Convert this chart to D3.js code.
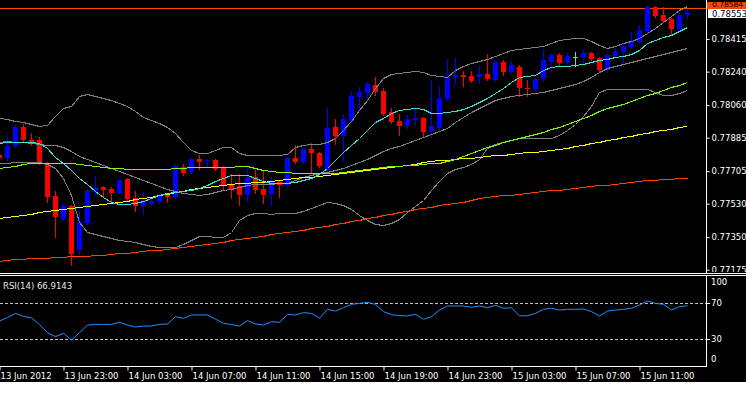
<!DOCTYPE html>
<html>
<head>
<meta charset="utf-8">
<script src="https://cdn.jsdelivr.net/npm/d3@7"></script>
<style>
  html, body { margin: 0; padding: 0; background: #fff; }
  svg { display: block; }
  text { font-family: "DejaVu Sans", sans-serif; font-size: 8.5px; }
</style>
</head>
<body>
<svg id="chart" width="746" height="393"></svg>
<script>
// M30 candles, first bar index -1 (13 Jun 19:00) to 85 (15 Jun 13:30)
const firstIndex = -1;

const opens = [
  0.77792,0.77776,0.77840,0.77942,0.77872,0.77872,0.77749,0.77571,0.77448,0.77518,
  0.77281,0.77426,0.77593,0.77620,0.77609,0.77587,0.77663,0.77561,0.77518,0.77528,
  0.77539,0.77577,0.77566,0.77727,0.77700,0.77770,0.77759,0.77765,0.77727,0.77630,
  0.77625,0.77577,0.77673,0.77609,0.77582,0.77647,0.77630,0.77776,0.77754,0.77824,
  0.77802,0.77711,0.77942,0.77894,0.77974,0.78104,0.78125,0.78168,0.78136,0.78023,
  0.77974,0.77948,0.77980,0.77991,0.77921,0.77937,0.78093,0.78211,0.78222,0.78216,
  0.78211,0.78227,0.78195,0.78292,0.78238,0.78265,0.78152,0.78147,0.78206,0.78292,
  0.78329,0.78292,0.78319,0.78319,0.78340,0.78313,0.78249,0.78324,0.78345,0.78372,
  0.78399,0.78458,0.78587,0.78544,0.78523,0.78469,0.78544];
const highs = [
  0.77797,0.77899,0.77953,0.77958,0.77910,0.77889,0.77754,0.77598,0.77534,0.77523,
  0.77496,0.77609,0.77679,0.77625,0.77620,0.77663,0.77668,0.77598,0.77593,0.77566,
  0.77582,0.77587,0.77743,0.77743,0.77776,0.77792,0.77770,0.77770,0.77733,0.77690,
  0.77690,0.77743,0.77711,0.77706,0.77673,0.77652,0.77781,0.77845,0.77829,0.77856,
  0.77808,0.78044,0.77985,0.78012,0.78136,0.78157,0.78184,0.78211,0.78152,0.78044,
  0.78012,0.78007,0.78044,0.77996,0.78195,0.78163,0.78308,0.78313,0.78243,0.78243,
  0.78270,0.78335,0.78297,0.78302,0.78297,0.78276,0.78195,0.78206,0.78362,0.78340,
  0.78340,0.78340,0.78345,0.78362,0.78345,0.78319,0.78335,0.78367,0.78383,0.78453,
  0.78491,0.78593,0.78593,0.78587,0.78528,0.78560,0.78577];
const lows = [
  0.77770,0.77765,0.77835,0.77867,0.77845,0.77743,0.77539,0.77351,0.77442,0.77200,
  0.77260,0.77421,0.77577,0.77566,0.77544,0.77582,0.77550,0.77491,0.77475,0.77523,
  0.77534,0.77539,0.77561,0.77684,0.77695,0.77716,0.77733,0.77711,0.77604,0.77561,
  0.77523,0.77544,0.77587,0.77534,0.77523,0.77566,0.77625,0.77749,0.77749,0.77695,
  0.77727,0.77706,0.77851,0.77759,0.77969,0.78034,0.78087,0.78114,0.78007,0.77964,
  0.77899,0.77937,0.77953,0.77889,0.77889,0.77932,0.78087,0.78173,0.78163,0.78184,
  0.78179,0.78195,0.78190,0.78222,0.78233,0.78109,0.78109,0.78141,0.78190,0.78243,
  0.78276,0.78281,0.78270,0.78286,0.78302,0.78238,0.78238,0.78319,0.78265,0.78367,
  0.78394,0.78453,0.78534,0.78507,0.78437,0.78464,0.78523];
const closes = [
  0.77776,0.77840,0.77942,0.77872,0.77862,0.77749,0.77566,0.77458,0.77518,0.77260,
  0.77432,0.77598,0.77614,0.77604,0.77587,0.77657,0.77555,0.77518,0.77539,0.77544,
  0.77577,0.77566,0.77733,0.77695,0.77770,0.77754,0.77765,0.77716,0.77625,0.77609,
  0.77577,0.77668,0.77604,0.77577,0.77647,0.77630,0.77776,0.77754,0.77824,0.77802,
  0.77733,0.77937,0.77894,0.77985,0.78109,0.78130,0.78173,0.78130,0.78012,0.77969,
  0.77948,0.77985,0.77991,0.77915,0.77948,0.78098,0.78211,0.78222,0.78211,0.78190,
  0.78227,0.78200,0.78292,0.78238,0.78276,0.78152,0.78147,0.78200,0.78302,0.78329,
  0.78286,0.78324,0.78319,0.78340,0.78308,0.78249,0.78329,0.78351,0.78378,0.78405,
  0.78464,0.78587,0.78539,0.78512,0.78469,0.78544,0.78553];

// Bollinger bands
const bbUpper = [
  0.77991,0.77985,0.77974,0.77969,0.77958,0.77948,0.77953,0.78001,0.78044,0.78055,
  0.78109,0.78120,0.78109,0.78098,0.78087,0.78071,0.78055,0.78028,0.77996,0.77980,
  0.77964,0.77942,0.77910,0.77862,0.77819,0.77802,0.77802,0.77819,0.77835,0.77835,
  0.77802,0.77792,0.77792,0.77792,0.77792,0.77792,0.77797,0.77835,0.77845,0.77851,
  0.77851,0.77862,0.77883,0.77926,0.77974,0.78034,0.78087,0.78152,0.78206,0.78227,
  0.78233,0.78238,0.78243,0.78238,0.78222,0.78216,0.78211,0.78249,0.78270,0.78286,
  0.78297,0.78308,0.78324,0.78340,0.78356,0.78362,0.78367,0.78372,0.78378,0.78394,
  0.78410,0.78415,0.78421,0.78421,0.78405,0.78383,0.78367,0.78378,0.78394,0.78405,
  0.78421,0.78448,0.78474,0.78507,0.78539,0.78571,0.78593];
const bbMiddle = [
  0.77862,0.77867,0.77862,0.77862,0.77856,0.77851,0.77845,0.77845,0.77835,0.77813,
  0.77786,0.77770,0.77754,0.77738,0.77722,0.77706,0.77690,0.77673,0.77657,0.77641,
  0.77625,0.77609,0.77598,0.77587,0.77582,0.77577,0.77582,0.77593,0.77604,0.77609,
  0.77620,0.77630,0.77636,0.77636,0.77636,0.77641,0.77641,0.77657,0.77673,0.77684,
  0.77695,0.77700,0.77711,0.77722,0.77738,0.77754,0.77770,0.77792,0.77813,0.77829,
  0.77840,0.77856,0.77872,0.77889,0.77905,0.77921,0.77937,0.77969,0.77996,0.78023,
  0.78044,0.78066,0.78087,0.78098,0.78109,0.78114,0.78120,0.78125,0.78130,0.78141,
  0.78152,0.78163,0.78173,0.78190,0.78211,0.78238,0.78259,0.78270,0.78281,0.78292,
  0.78302,0.78313,0.78324,0.78335,0.78345,0.78356,0.78367];
const bbLower = [
  0.77749,0.77749,0.77754,0.77754,0.77754,0.77754,0.77743,0.77722,0.77668,0.77577,
  0.77432,0.77378,0.77367,0.77356,0.77346,0.77335,0.77329,0.77324,0.77313,0.77303,
  0.77297,0.77297,0.77297,0.77313,0.77335,0.77356,0.77356,0.77351,0.77351,0.77378,
  0.77442,0.77469,0.77480,0.77480,0.77475,0.77480,0.77480,0.77480,0.77491,0.77507,
  0.77523,0.77539,0.77534,0.77523,0.77501,0.77469,0.77442,0.77421,0.77415,0.77426,
  0.77448,0.77485,0.77518,0.77550,0.77604,0.77652,0.77695,0.77716,0.77727,0.77743,
  0.77770,0.77829,0.77851,0.77862,0.77872,0.77883,0.77883,0.77883,0.77883,0.77883,
  0.77899,0.77926,0.77958,0.78001,0.78055,0.78130,0.78147,0.78147,0.78147,0.78147,
  0.78147,0.78147,0.78130,0.78114,0.78114,0.78125,0.78141];

// moving averages
const maFast = [
  0.77856,0.77862,0.77862,0.77862,0.77862,0.77856,0.77829,0.77781,0.77749,0.77711,
  0.77668,0.77636,0.77598,0.77566,0.77539,0.77528,0.77528,0.77534,0.77544,0.77561,
  0.77577,0.77587,0.77593,0.77598,0.77604,0.77614,0.77630,0.77652,0.77668,0.77684,
  0.77684,0.77684,0.77668,0.77652,0.77641,0.77641,0.77641,0.77647,0.77657,0.77668,
  0.77690,0.77722,0.77765,0.77808,0.77845,0.77883,0.77926,0.77969,0.77991,0.78017,
  0.78034,0.78039,0.78044,0.78039,0.78017,0.78017,0.78023,0.78028,0.78039,0.78055,
  0.78077,0.78098,0.78125,0.78152,0.78184,0.78211,0.78216,0.78222,0.78249,0.78265,
  0.78270,0.78270,0.78276,0.78281,0.78292,0.78302,0.78308,0.78319,0.78324,0.78335,
  0.78356,0.78394,0.78410,0.78426,0.78437,0.78458,0.78480];
const maMid = [
  0.77722,0.77727,0.77733,0.77743,0.77749,0.77749,0.77749,0.77749,0.77749,0.77749,
  0.77743,0.77738,0.77733,0.77727,0.77722,0.77722,0.77716,0.77716,0.77716,0.77716,
  0.77716,0.77716,0.77722,0.77722,0.77727,0.77727,0.77727,0.77727,0.77727,0.77727,
  0.77733,0.77733,0.77722,0.77711,0.77706,0.77700,0.77700,0.77695,0.77695,0.77695,
  0.77695,0.77695,0.77695,0.77700,0.77706,0.77711,0.77716,0.77722,0.77727,0.77733,
  0.77733,0.77738,0.77738,0.77743,0.77749,0.77749,0.77759,0.77770,0.77786,0.77802,
  0.77819,0.77835,0.77845,0.77862,0.77872,0.77883,0.77894,0.77905,0.77915,0.77932,
  0.77942,0.77958,0.77974,0.77991,0.78007,0.78028,0.78044,0.78055,0.78066,0.78082,
  0.78098,0.78114,0.78125,0.78141,0.78157,0.78168,0.78184];
const maSlow = [
  0.77453,0.77458,0.77464,0.77469,0.77475,0.77485,0.77491,0.77496,0.77501,0.77507,
  0.77512,0.77518,0.77523,0.77528,0.77534,0.77539,0.77544,0.77555,0.77561,0.77566,
  0.77577,0.77582,0.77593,0.77598,0.77609,0.77614,0.77620,0.77625,0.77630,0.77636,
  0.77641,0.77641,0.77647,0.77647,0.77652,0.77657,0.77663,0.77668,0.77673,0.77673,
  0.77679,0.77684,0.77690,0.77695,0.77700,0.77706,0.77711,0.77716,0.77722,0.77727,
  0.77733,0.77738,0.77743,0.77754,0.77759,0.77765,0.77765,0.77770,0.77776,0.77776,
  0.77781,0.77786,0.77792,0.77792,0.77797,0.77802,0.77808,0.77808,0.77813,0.77819,
  0.77824,0.77829,0.77840,0.77845,0.77856,0.77862,0.77872,0.77878,0.77889,0.77894,
  0.77905,0.77910,0.77921,0.77926,0.77932,0.77942,0.77948];
const maLong = [
  0.77222,0.77227,0.77233,0.77233,0.77238,0.77238,0.77238,0.77243,0.77243,0.77249,
  0.77249,0.77249,0.77254,0.77254,0.77260,0.77265,0.77265,0.77270,0.77276,0.77281,
  0.77281,0.77287,0.77292,0.77297,0.77303,0.77308,0.77313,0.77319,0.77324,0.77335,
  0.77340,0.77346,0.77351,0.77356,0.77367,0.77372,0.77378,0.77383,0.77389,0.77399,
  0.77405,0.77410,0.77421,0.77426,0.77437,0.77442,0.77453,0.77458,0.77469,0.77475,
  0.77485,0.77491,0.77501,0.77507,0.77512,0.77523,0.77528,0.77534,0.77539,0.77550,
  0.77561,0.77566,0.77571,0.77577,0.77577,0.77582,0.77587,0.77593,0.77598,0.77604,
  0.77604,0.77609,0.77614,0.77620,0.77625,0.77630,0.77630,0.77636,0.77641,0.77647,
  0.77652,0.77657,0.77657,0.77663,0.77663,0.77668,0.77668];

const rsi14 = [
  50,54,58.5,55,53.5,46,37,32.6,36.3,28.9,
  37,45.5,46.3,46.3,46.3,48.5,45.5,43.3,44.4,44.4,
  46.3,46.7,54.8,53,56.7,56.7,56.7,52,47.4,46,
  44.4,50.4,46.7,45.5,49.3,48.5,57.4,56.7,59.3,58.5,
  53,63,61,64.8,68.5,69.6,70.7,68.5,60.4,57,
  56,55.6,57.4,51.9,54.8,62.2,66.7,66.7,66.7,65.2,
  66.7,64.8,67.4,64.1,64.8,55.6,55.9,58.5,63,64.1,
  62.2,63,63,63.3,60.4,55.6,61,62.2,63,64.1,
  67.8,72.2,69.6,68.5,62.2,65.9,66.9143];

const priceTicks = [0.77175, 0.77350, 0.77530, 0.77705, 0.77885, 0.78060, 0.78240, 0.78415];
const timeTicks = [-1, 7, 15, 23, 31, 39, 47, 55, 63, 71, 79];
const timeLabels = ['13 Jun 2012', '13 Jun 23:00', '14 Jun 03:00', '14 Jun 07:00', '14 Jun 11:00',
  '14 Jun 15:00', '14 Jun 19:00', '14 Jun 23:00', '15 Jun 03:00', '15 Jun 07:00', '15 Jun 11:00'];
const rsiLevels = [70, 30];
const rsiTicks = [100, 70, 30, 0];
const lastPrice = 0.78553;
const hLinePrice = 0.78584;

// layout
const W = 746, plotRight = 706;
const mainBottom = 272, rsiTop = 276, rsiBottom = 366;

const svg = d3.select('#chart');
svg.append('rect').attr('width', W).attr('height', 382).attr('fill', '#000');

// scales
let x = d3.scaleLinear().domain([-1, 85]).range([-1, 687]);
let y = d3.scaleLinear().domain([0.77168, 0.78625]).range([271, 0]);
let yRsi = d3.scaleLinear().domain([0, 100]).range([rsiBottom, rsiTop]);

let hy = Math.round(y(hLinePrice));
let ly = Math.round(y(lastPrice));

const defs = svg.append('defs');
defs.append('clipPath').attr('id', 'clipMain')
    .append('rect').attr('x', 0).attr('y', 0).attr('width', plotRight).attr('height', mainBottom);
defs.append('clipPath').attr('id', 'clipRsi')
    .append('rect').attr('x', 0).attr('y', rsiTop).attr('width', plotRight).attr('height', rsiBottom - rsiTop);
defs.append('clipPath').attr('id', 'clipAxis')
    .append('rect').attr('x', plotRight).attr('y', 0).attr('width', W - plotRight).attr('height', mainBottom);

let main = svg.append('g').attr('clip-path', 'url(#clipMain)');

// horizontal line
main.append('line')
    .attr('x1', 0).attr('x2', plotRight)
    .attr('y1', hy + 0.5).attr('y2', hy + 0.5)
    .attr('stroke', '#ff4500');

// candles
let bars = d3.range(opens.length).map(k => ({
  i: k + firstIndex, o: opens[k], h: highs[k], l: lows[k], c: closes[k]
}));
let barColor = d => d.c > d.o ? '#0000ff' : (d.c < d.o ? '#ff0000' : '#5fe0a8');

let cg = main.append('g').attr('shape-rendering', 'crispEdges');
cg.selectAll('line.wick')
    .data(bars)
    .enter().append('line')
    .attr('class', 'wick')
    .attr('x1', d => Math.round(x(d.i)) + 0.5)
    .attr('x2', d => Math.round(x(d.i)) + 0.5)
    .attr('y1', d => Math.round(y(d.h)))
    .attr('y2', d => Math.round(y(d.l)) + 1)
    .attr('stroke', barColor);
cg.selectAll('rect.body')
    .data(bars)
    .enter().append('rect')
    .attr('class', 'body')
    .attr('x', d => Math.round(x(d.i)) - 2)
    .attr('width', 5)
    .attr('y', d => Math.round(y(Math.max(d.o, d.c))))
    .attr('height', d => Math.max(1, Math.round(y(Math.min(d.o, d.c))) - Math.round(y(Math.max(d.o, d.c)))))
    .attr('fill', barColor);

// indicator lines
let series = [
  {values: bbUpper, color: '#808080'},
  {values: bbMiddle, color: '#808080'},
  {values: bbLower, color: '#808080'},
  {values: maLong, color: '#ff4500'},
  {values: maSlow, color: '#ffff00'},
  {values: maMid, color: '#7cfc00'},
  {values: maFast, color: '#40e0d0'}
];
let valueline = d3.line()
    .x((d, k) => Math.round(x(k + firstIndex)) + 0.5)
    .y(d => Math.round(y(d)) + 0.5);
series.forEach(s => {
  main.append('path')
      .datum(s.values)
      .attr('d', valueline)
      .attr('fill', 'none')
      .attr('stroke', s.color)
      .attr('stroke-width', 1)
      .attr('shape-rendering', 'crispEdges');
});

// RSI panel
let rsiG = svg.append('g').attr('clip-path', 'url(#clipRsi)');
rsiLevels.forEach(v => {
  rsiG.append('line')
      .attr('x1', 0).attr('x2', plotRight)
      .attr('y1', Math.round(yRsi(v)) + 0.5).attr('y2', Math.round(yRsi(v)) + 0.5)
      .attr('stroke', '#c0c0c0')
      .attr('stroke-dasharray', '3,2');
});
let rsiLine = d3.line()
    .x((d, k) => Math.round(x(k + firstIndex)) + 0.5)
    .y(d => yRsi(d));
rsiG.append('path')
    .datum(rsi14)
    .attr('d', rsiLine)
    .attr('fill', 'none')
    .attr('stroke', '#1e90ff')
    .attr('stroke-width', 1);

svg.append('text')
    .attr('x', 3).attr('y', 289)
    .attr('fill', '#e8e8e8')
    .text('RSI(14) ' + rsi14[rsi14.length - 1].toFixed(4));

// frames
let frame = svg.append('g').attr('stroke', '#fff').attr('shape-rendering', 'crispEdges');
frame.append('line').attr('x1', 0).attr('x2', W).attr('y1', 273.5).attr('y2', 273.5);
frame.append('line').attr('x1', 0).attr('x2', W).attr('y1', 275.5).attr('y2', 275.5);
frame.append('line').attr('x1', 0).attr('x2', plotRight + 1).attr('y1', rsiBottom + 0.5).attr('y2', rsiBottom + 0.5);
frame.append('line').attr('x1', plotRight + 0.5).attr('x2', plotRight + 0.5).attr('y1', 0).attr('y2', 273);
frame.append('line').attr('x1', plotRight + 0.5).attr('x2', plotRight + 0.5).attr('y1', 276).attr('y2', rsiBottom);

// price axis (clip applied on an untransformed wrapper)
let axisWrap = svg.append('g').attr('clip-path', 'url(#clipAxis)');
let priceAxis = axisWrap.append('g')
    .attr('transform', 'translate(' + (plotRight + 0.5) + ',0)')
    .call(d3.axisRight(y).tickValues(priceTicks).tickSize(3).tickPadding(2).tickFormat(d3.format('.5f')));
priceAxis.select('.domain').remove();
priceAxis.selectAll('line').attr('stroke', '#fff');
priceAxis.selectAll('text').attr('fill', '#fff').style('font-family', '"DejaVu Sans", sans-serif').style('font-size', '8.5px');

// level label and last price label
svg.append('rect').attr('x', plotRight + 1).attr('y', hy - 6).attr('width', W - plotRight - 1).attr('height', ly - hy + 2).attr('fill', '#ff4500');
svg.append('text').attr('x', 712).attr('y', hy - 1).attr('fill', '#000')
    .style('font-size', '7.5px')
    .text(d3.format('.5f')(hLinePrice));
svg.append('rect').attr('x', plotRight + 2).attr('y', ly - 4).attr('width', W - plotRight - 2).attr('height', 9).attr('fill', '#fff');
svg.append('text').attr('x', 712).attr('y', ly + 4).attr('fill', '#000').text(d3.format('.5f')(lastPrice));

// RSI axis
let rsiAxis = svg.append('g').attr('shape-rendering', 'crispEdges');
rsiTicks.forEach(v => {
  let ty = Math.round(yRsi(v));
  if (v === 70 || v === 30) {
    rsiAxis.append('line').attr('x1', plotRight).attr('x2', plotRight + 4)
        .attr('y1', ty + 0.5).attr('y2', ty + 0.5).attr('stroke', '#fff');
  }
  let labelY = v === 100 ? ty + 9 : (v === 0 ? ty - 4 : ty + 3);
  svg.append('text').attr('x', 711).attr('y', labelY).attr('fill', '#fff').text(v);
});

// time axis
let timeAxis = svg.append('g')
    .attr('transform', 'translate(0,' + (rsiBottom + 0.5) + ')')
    .call(d3.axisBottom(x).tickValues(timeTicks).tickSize(4).tickFormat((d, k) => timeLabels[k]));
timeAxis.select('.domain').remove();
timeAxis.selectAll('line').attr('stroke', '#fff').attr('transform', 'translate(0.5,0)');
timeAxis.selectAll('text')
    .attr('fill', '#fff')
    .attr('text-anchor', 'start')
    .attr('x', 1)
    .attr('y', 6)
    .style('font-family', '"DejaVu Sans", sans-serif')
    .style('font-size', '8.5px');
</script>
</body>
</html>
